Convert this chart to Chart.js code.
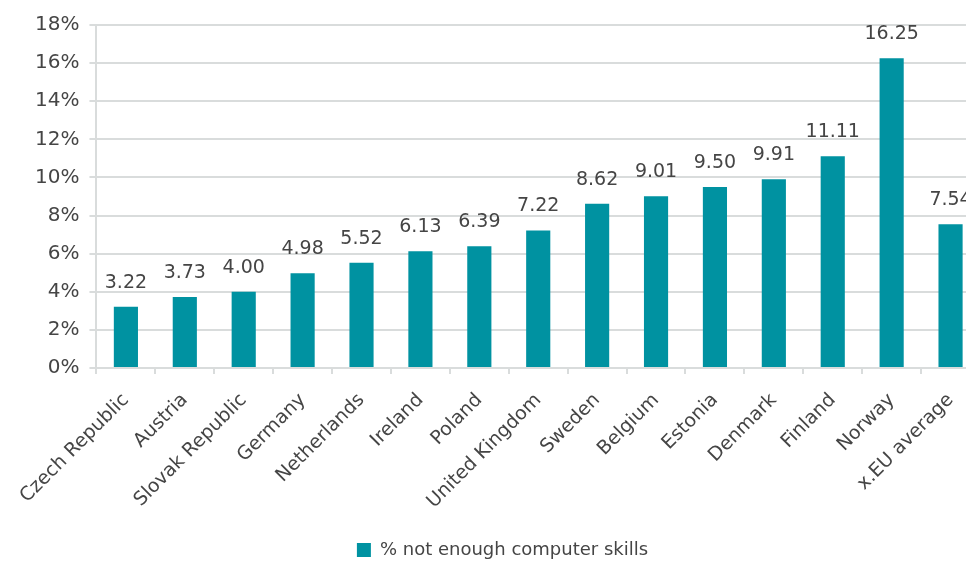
<!DOCTYPE html>
<html>
<head>
<meta charset="utf-8">
<script src="https://cdn.jsdelivr.net/npm/chart.js@4"></script>
<style>
  html, body { margin: 0; padding: 0; background: #fff; overflow: hidden; }
  #wrap { width: 1000px; height: 563px; }
</style>
</head>
<body>
<div id="wrap"><canvas id="chart"></canvas></div>
<script>
const countries = ['Czech Republic', 'Austria', 'Slovak Republic', 'Germany', 'Netherlands', 'Ireland', 'Poland',
  'United Kingdom', 'Sweden', 'Belgium', 'Estonia', 'Denmark', 'Finland', 'Norway', 'x.EU average'];
const notEnoughSkills = [3.22, 3.73, 4.00, 4.98, 5.52, 6.13, 6.39, 7.22, 8.62, 9.01, 9.50, 9.91, 11.11, 16.25, 7.54];
const yTicks = [0, 2, 4, 6, 8, 10, 12, 14, 16, 18];

const fontFamily = 'DejaVu Sans';
const textColor = '#454545';
const gridColor = '#d9dcdc';
const barColor = '#0092a1';

// value labels above each bar
const barValues = {
  id: 'barValues',
  afterDatasetsDraw(chart) {
    const ctx = chart.ctx;
    const meta = chart.getDatasetMeta(0);
    ctx.save();
    ctx.font = '19px "' + fontFamily + '"';
    ctx.fillStyle = textColor;
    ctx.textAlign = 'center';
    ctx.textBaseline = 'alphabetic';
    meta.data.forEach((bar, i) => {
      ctx.fillText(notEnoughSkills[i].toFixed(2), bar.x, bar.y - 19);
    });
    ctx.restore();
  }
};

new Chart(document.getElementById('chart'), {
  type: 'bar',
  data: {
    labels: countries,
    datasets: [{
      label: '% not enough computer skills',
      data: notEnoughSkills,
      backgroundColor: barColor,
      barPercentage: 0.82,
      categoryPercentage: 0.5
    }]
  },
  options: {
    responsive: true,
    maintainAspectRatio: false,
    animation: false,
    layout: { padding: { top: 25, right: 20, left: 25, bottom: -6 } },
    plugins: {
      tooltip: { enabled: false },
      legend: {
        position: 'bottom',
        labels: {
          color: textColor,
          font: { family: fontFamily, size: 18 },
          boxWidth: 14,
          boxHeight: 14,
          padding: 7
        }
      }
    },
    scales: {
      x: {
        grid: { drawOnChartArea: false, drawTicks: true, tickLength: 6, color: gridColor, lineWidth: 2, offset: true },
        border: { color: gridColor, width: 2 },
        ticks: {
          color: textColor,
          font: { family: fontFamily, size: 19 },
          maxRotation: 45,
          minRotation: 45,
          padding: 15,
          autoSkip: false
        },
        // extra gap between the rotated labels and the legend
        afterFit(axis) { axis.height += 6; }
      },
      y: {
        min: 0,
        max: 18,
        afterBuildTicks(axis) { axis.ticks = yTicks.map(v => ({ value: v })); },
        grid: { color: gridColor, lineWidth: 2, tickLength: 7 },
        border: { color: gridColor, width: 2 },
        ticks: {
          color: textColor,
          font: { family: fontFamily, size: 20 },
          padding: 10,
          callback: v => v + '%'
        }
      }
    }
  },
  plugins: [barValues]
});
</script>
</body>
</html>
